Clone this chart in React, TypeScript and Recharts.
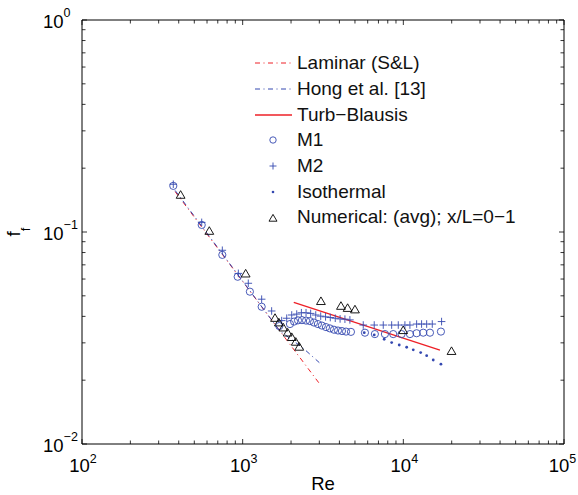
import React from "react";
import { ScatterChart, Scatter, XAxis, YAxis, Legend } from "recharts";

const FONT = '"Liberation Sans", Arial, Helvetica, sans-serif';
const BLUE = "#3448b0";
const RED = "#ee2027";
const DASHDOT = "5 3.5 1 3.5";

// reference correlations (straight lines in log-log)
const laminarRe = [380, 3000];
const laminarF = [0.155, 0.0193];
const hongRe = [380, 1700, 2370, 3000];
const hongF = [0.157, 0.0342, 0.0284, 0.0242];
const blasiusRe = [2080, 16900];
const blasiusF = [0.0466, 0.0277];

// M1 (circles)
const m1Re = [370, 556, 747, 931, 1109, 1313, 1690,
  1970, 2090, 2210, 2340, 2480, 2620, 2780, 2940, 3110, 3300, 3490, 3700, 3920, 4150, 4400, 4720,
  5770, 6650, 7680, 8650, 9750, 10990, 12100, 13300, 14650, 17140];
const m1F = [0.165, 0.108, 0.078, 0.0615, 0.0523, 0.0444, 0.036,
  0.0368, 0.0378, 0.0383, 0.0384, 0.0382, 0.038, 0.0374, 0.0368, 0.0362, 0.0356, 0.0351, 0.0346, 0.0343, 0.0341, 0.0339, 0.0338,
  0.0335, 0.033, 0.033, 0.033, 0.033, 0.033, 0.0333, 0.0335, 0.0335, 0.0339];

// M2 (plus)
const m2Re = [370, 556, 747, 940, 1084, 1313, 1515, 1749,
  1880, 2020, 2170, 2320, 2480, 2650, 2850, 3060, 3280, 3510, 3770, 4040, 4330, 4650,
  5630, 6590, 7500, 8460, 9300, 10230, 10990, 12100, 12990, 13970, 15140, 17300];
const m2F = [0.168, 0.111, 0.082, 0.0638, 0.0573, 0.0482, 0.0424, 0.0382,
  0.0392, 0.0406, 0.041, 0.0416, 0.0416, 0.0413, 0.0406, 0.0401, 0.0398, 0.0395, 0.0392, 0.0389, 0.0388, 0.0385,
  0.0364, 0.0364, 0.0364, 0.0364, 0.0364, 0.0364, 0.0364, 0.0368, 0.0368, 0.0368, 0.0368, 0.0378];

// Isothermal (dots)
const isoRe = [5710, 6590, 7600, 8460, 9430, 10490, 11530, 12820, 13970, 15350, 17140];
const isoF = [0.0335, 0.0327, 0.0312, 0.0301, 0.0293, 0.0286, 0.0278, 0.027, 0.0261, 0.0249, 0.0238];

// Numerical avg (triangles)
const numRe = [411, 620, 1044, 1590, 1680, 1790, 1905, 2020, 2140, 2250, 3070, 4090, 4500, 5000, 9980, 19950];
const numF = [0.15, 0.1014, 0.0638, 0.0394, 0.0375, 0.0355, 0.0336, 0.032, 0.0304, 0.0288,
  0.0473, 0.0449, 0.0439, 0.0432, 0.0345, 0.0275];

// axes
const xMajor = [100, 1000, 10000, 100000];
const xMajorExp = ["2", "3", "4", "5"];
const yMajor = [0.01, 0.1, 1];
const yMajorExp = ["\u22122", "\u22121", "0"];
const minorDigits = [2, 3, 4, 5, 6, 7, 8, 9];

const minorOf = (majors: number[]) =>
  majors.slice(0, -1).flatMap((m) => minorDigits.map((d) => d * m));
const xTicks = [...xMajor, ...minorOf(xMajor)];
const yTicks = [...yMajor, ...minorOf(yMajor)];

const pts = (re: number[], f: number[]) => re.map((r, i) => ({ re: r, f: f[i] }));

const legendItems = [
  { name: "Laminar (S&L)", kind: "dashdot", color: RED },
  { name: "Hong et al. [13]", kind: "dashdot", color: BLUE },
  { name: "Turb\u2212Blausis", kind: "solid", color: RED },
  { name: "M1", kind: "circle", color: BLUE },
  { name: "M2", kind: "plus", color: BLUE },
  { name: "Isothermal", kind: "dot", color: BLUE },
  { name: "Numerical: (avg); x/L=0\u22121", kind: "tri", color: "#000" },
];

const MAJOR_LEN = 5;
const MINOR_LEN = 3.5;

const BottomTick = (props: any) => {
  const { x, y, payload } = props;
  const i = xMajor.indexOf(payload.value);
  const len = i >= 0 ? MAJOR_LEN : MINOR_LEN;
  // keep the last label inside the picture
  const tx = i === xMajor.length - 1 ? x - 1.5 : x + 1;
  return (
    <g>
      <line x1={x} x2={x} y1={y} y2={y - len} stroke="#000" strokeWidth={0.8} />
      {i >= 0 && (
        <text x={tx} y={y + 27.5} textAnchor="middle" fontFamily={FONT} fontSize={18.5} fill="#000">
          10<tspan dy={-9} fontSize={12.5}>{xMajorExp[i]}</tspan>
        </text>
      )}
    </g>
  );
};

const TopTick = (props: any) => {
  const { x, y, payload } = props;
  const len = xMajor.includes(payload.value) ? MAJOR_LEN : MINOR_LEN;
  return <line x1={x} x2={x} y1={y} y2={y + len} stroke="#000" strokeWidth={0.8} />;
};

const LeftTick = (props: any) => {
  const { x, y, payload } = props;
  const i = yMajor.indexOf(payload.value);
  const len = i >= 0 ? MAJOR_LEN : MINOR_LEN;
  return (
    <g>
      <line x1={x} x2={x + len} y1={y} y2={y} stroke="#000" strokeWidth={0.8} />
      {i >= 0 && (
        <text x={43} y={y + 8} textAnchor="start" fontFamily={FONT} fontSize={18.5} fill="#000">
          10<tspan dy={-11} fontSize={12.5}>{yMajorExp[i]}</tspan>
        </text>
      )}
    </g>
  );
};

const RightTick = (props: any) => {
  const { x, y, payload } = props;
  const len = yMajor.includes(payload.value) ? MAJOR_LEN : MINOR_LEN;
  return <line x1={x} x2={x - len} y1={y} y2={y} stroke="#000" strokeWidth={0.8} />;
};

const xTitle = (props: any) => {
  const vb = props.viewBox;
  return (
    <text x={vb.x + vb.width / 2} y={vb.y + 46} textAnchor="middle" fontFamily={FONT} fontSize={18.5} fill="#000">
      Re
    </text>
  );
};

const yTitle = (props: any) => {
  const vb = props.viewBox;
  const cx = 20;
  const cy = vb.y + vb.height / 2;
  return (
    <text x={cx} y={cy} transform={`rotate(-90, ${cx}, ${cy})`} textAnchor="middle" fontFamily={FONT} fontSize={18.5} fill="#000">
      f<tspan dy={10} fontSize={13}>f</tspan>
    </text>
  );
};

const Circle = (p: any) => <circle cx={p.cx} cy={p.cy} r={3.6} fill="none" stroke={BLUE} strokeWidth={0.9} />;
const Plus = (p: any) => (
  <path d={`M${p.cx - 3.8},${p.cy}H${p.cx + 3.8}M${p.cx},${p.cy - 3.8}V${p.cy + 3.8}`} stroke={BLUE} strokeWidth={0.9} />
);
const Dot = (p: any) => <circle cx={p.cx} cy={p.cy} r={1.4} fill={BLUE} />;
const Tri = (p: any) => (
  <path
    d={`M${p.cx},${p.cy - 4}L${p.cx + 4.4},${p.cy + 3.6}L${p.cx - 4.4},${p.cy + 3.6}Z`}
    fill="none"
    stroke="#000"
    strokeWidth={0.9}
  />
);
const Nothing = () => <g />;

const LegendIcon = ({ kind, color }: { kind: string; color: string }) => {
  const cy = 13;
  return (
    <svg width={44} height={25.7} style={{ flex: "none", display: "block" }}>
      {kind === "dashdot" && <line x1={2} x2={39} y1={cy} y2={cy} stroke={color} strokeWidth={1} strokeDasharray={DASHDOT} />}
      {kind === "solid" && <line x1={2} x2={39} y1={cy} y2={cy} stroke={color} strokeWidth={1.3} />}
      {kind === "circle" && <circle cx={20} cy={cy} r={3.2} fill="none" stroke={color} strokeWidth={0.9} />}
      {kind === "plus" && <path d={`M16.5,${cy}H23.5M20,${cy - 3.5}V${cy + 3.5}`} stroke={color} strokeWidth={0.9} />}
      {kind === "dot" && <circle cx={20} cy={cy} r={1.3} fill={color} />}
      {kind === "tri" && <path d={`M20,${cy - 3.6}L24,${cy + 3.2}L16,${cy + 3.2}Z`} fill="none" stroke={color} strokeWidth={0.9} />}
    </svg>
  );
};

const LegendBox = () => (
  <div style={{ fontFamily: FONT, fontSize: 19, color: "#111" }}>
    {legendItems.map((it) => (
      <div key={it.name} style={{ display: "flex", alignItems: "center", height: 25.7, whiteSpace: "nowrap" }}>
        <LegendIcon kind={it.kind} color={it.color} />
        <span>{it.name}</span>
      </div>
    ))}
  </div>
);

export default function App() {
  return (
    <div style={{ position: "absolute", left: 0, top: 0, width: 578, height: 495, background: "#fff" }}>
      <ScatterChart width={578} height={495} margin={{ top: 19, right: 13, bottom: 0, left: 0 }}>
        <XAxis
          xAxisId="b"
          dataKey="re"
          type="number"
          scale="log"
          domain={[100, 100000]}
          ticks={xTicks}
          interval={0}
          tickSize={0}
          tickMargin={0}
          tickLine={false}
          tick={BottomTick}
          axisLine={{ stroke: "#000", strokeWidth: 1 }}
          height={51}
          allowDataOverflow
          label={xTitle}
        />
        <XAxis
          xAxisId="t"
          orientation="top"
          dataKey="re"
          type="number"
          scale="log"
          domain={[100, 100000]}
          ticks={xTicks}
          interval={0}
          tickSize={0}
          tickMargin={0}
          tickLine={false}
          tick={TopTick}
          axisLine={{ stroke: "#000", strokeWidth: 1 }}
          height={1}
          allowDataOverflow
        />
        <YAxis
          yAxisId="l"
          dataKey="f"
          type="number"
          scale="log"
          domain={[0.01, 1]}
          ticks={yTicks}
          interval={0}
          tickSize={0}
          tickMargin={0}
          tickLine={false}
          tick={LeftTick}
          axisLine={{ stroke: "#000", strokeWidth: 1 }}
          width={82}
          allowDataOverflow
          label={yTitle}
        />
        <YAxis
          yAxisId="r"
          orientation="right"
          dataKey="f"
          type="number"
          scale="log"
          domain={[0.01, 1]}
          ticks={yTicks}
          interval={0}
          tickSize={0}
          tickMargin={0}
          tickLine={false}
          tick={RightTick}
          axisLine={{ stroke: "#000", strokeWidth: 1 }}
          width={1}
          allowDataOverflow
        />
        <Legend
          content={<LegendBox />}
          layout="vertical"
          align="center"
          verticalAlign="middle"
          wrapperStyle={{ left: 253, top: 50.4, width: 300 }}
        />
        <Scatter xAxisId="b" yAxisId="l" name="Laminar (S&L)" data={pts(laminarRe, laminarF)} shape={Nothing}
          line={{ stroke: RED, strokeWidth: 1, strokeDasharray: DASHDOT }} isAnimationActive={false} />
        <Scatter xAxisId="b" yAxisId="l" name="Hong et al. [13]" data={pts(hongRe, hongF)} shape={Nothing}
          line={{ stroke: BLUE, strokeWidth: 1, strokeDasharray: DASHDOT }} isAnimationActive={false} />
        <Scatter xAxisId="b" yAxisId="l" name="Turb-Blausis" data={pts(blasiusRe, blasiusF)} shape={Nothing}
          line={{ stroke: RED, strokeWidth: 1.3 }} isAnimationActive={false} />
        <Scatter xAxisId="b" yAxisId="l" name="M1" data={pts(m1Re, m1F)} shape={Circle} isAnimationActive={false} />
        <Scatter xAxisId="b" yAxisId="l" name="M2" data={pts(m2Re, m2F)} shape={Plus} isAnimationActive={false} />
        <Scatter xAxisId="b" yAxisId="l" name="Isothermal" data={pts(isoRe, isoF)} shape={Dot} isAnimationActive={false} />
        <Scatter xAxisId="b" yAxisId="l" name="Numerical" data={pts(numRe, numF)} shape={Tri} isAnimationActive={false} />
      </ScatterChart>
    </div>
  );
}
